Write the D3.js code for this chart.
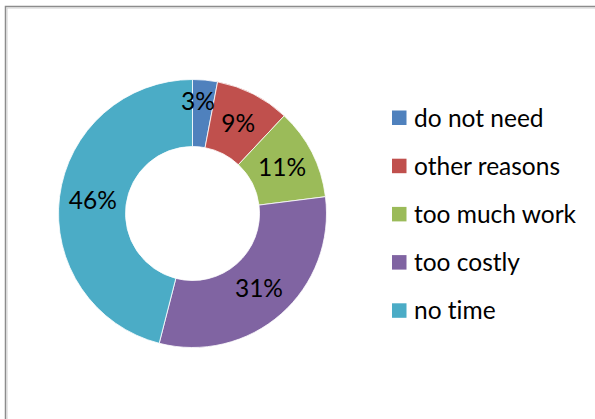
<!DOCTYPE html>
<html>
<head>
<meta charset="utf-8">
<script src="https://cdn.jsdelivr.net/npm/d3@7/dist/d3.min.js"></script>
<style>
  html, body { margin: 0; padding: 0; background: #fff; }
  svg { display: block; }
  text {
    font-family: Lato, "Open Sans", "Liberation Sans", sans-serif;
    fill: #000;
    font-variant-ligatures: none;
    font-feature-settings: "liga" 0, "clig" 0;
  }
</style>
</head>
<body>
<svg id="chart" width="595" height="419"></svg>
<script>
// Reasons given, share of respondents (%)
const categories = ["do not need", "other reasons", "too much work", "too costly", "no time"];
const shares = [3, 9, 11, 31, 46];
const colors = ["#4F81BD", "#C0504D", "#9BBB59", "#8064A2", "#4BACC6"];

const svg = d3.select("#chart");
const fontSize = 24.5;

// Chart frame (runs past the right and bottom edge)
svg.append("rect")
  .attr("x", 5.5).attr("y", 6.5)
  .attr("width", 620).attr("height", 440)
  .attr("fill", "none")
  .attr("stroke", "#8c8c8c")
  .attr("stroke-width", 1.5);
svg.append("rect")
  .attr("x", 7).attr("y", 8)
  .attr("width", 620).attr("height", 440)
  .attr("fill", "none")
  .attr("stroke", "#d0d0d0")
  .attr("stroke-width", 1);

const cx = 192.5, cy = 213.5;
const rOuter = 134, rInner = 67;
const rMid = (rOuter + rInner) / 2;

const pie = d3.pie().sort(null).value(d => d);
const arcs = pie(shares);

const arc = d3.arc().innerRadius(rInner).outerRadius(rOuter);

const g = svg.append("g").attr("transform", `translate(${cx},${cy})`);

g.selectAll("path.slice")
  .data(arcs)
  .join("path")
  .attr("class", "slice")
  .attr("d", arc)
  .attr("fill", (d, i) => colors[i])
  .attr("stroke", "#fff")
  .attr("stroke-width", 0.8);

// Percentage labels in the middle of the ring; narrow slices get pushed outward
const fmt = v => v + "%";
g.selectAll("text.pct")
  .data(arcs)
  .join("text")
  .attr("class", "pct")
  .attr("text-anchor", "middle")
  .attr("font-size", fontSize)
  .attr("transform", d => {
    const narrow = (d.endAngle - d.startAngle) < 0.3;
    const r = narrow ? rMid + 12 : rMid;
    const a = narrow ? (d.startAngle + d.endAngle) / 2 - 0.045 : (d.startAngle + d.endAngle) / 2;
    const x = r * Math.sin(a);
    const y = -r * Math.cos(a);
    return `translate(${x},${y + 8.5})`;
  })
  .text(d => fmt(d.data));

// Legend
const legendX = 392, legendY0 = 117.8, legendStep = 48.2;
const legend = svg.append("g");
const rows = legend.selectAll("g.row")
  .data(categories)
  .join("g")
  .attr("class", "row")
  .attr("transform", (d, i) => `translate(${legendX},${legendY0 + i * legendStep})`);
rows.append("rect")
  .attr("x", 0).attr("y", -7.3)
  .attr("width", 14.5).attr("height", 14.5)
  .attr("fill", (d, i) => colors[i]);
rows.append("text")
  .attr("x", 22).attr("y", 8.7)
  .attr("font-size", fontSize)
  .text(d => d);
</script>
</body>
</html>
